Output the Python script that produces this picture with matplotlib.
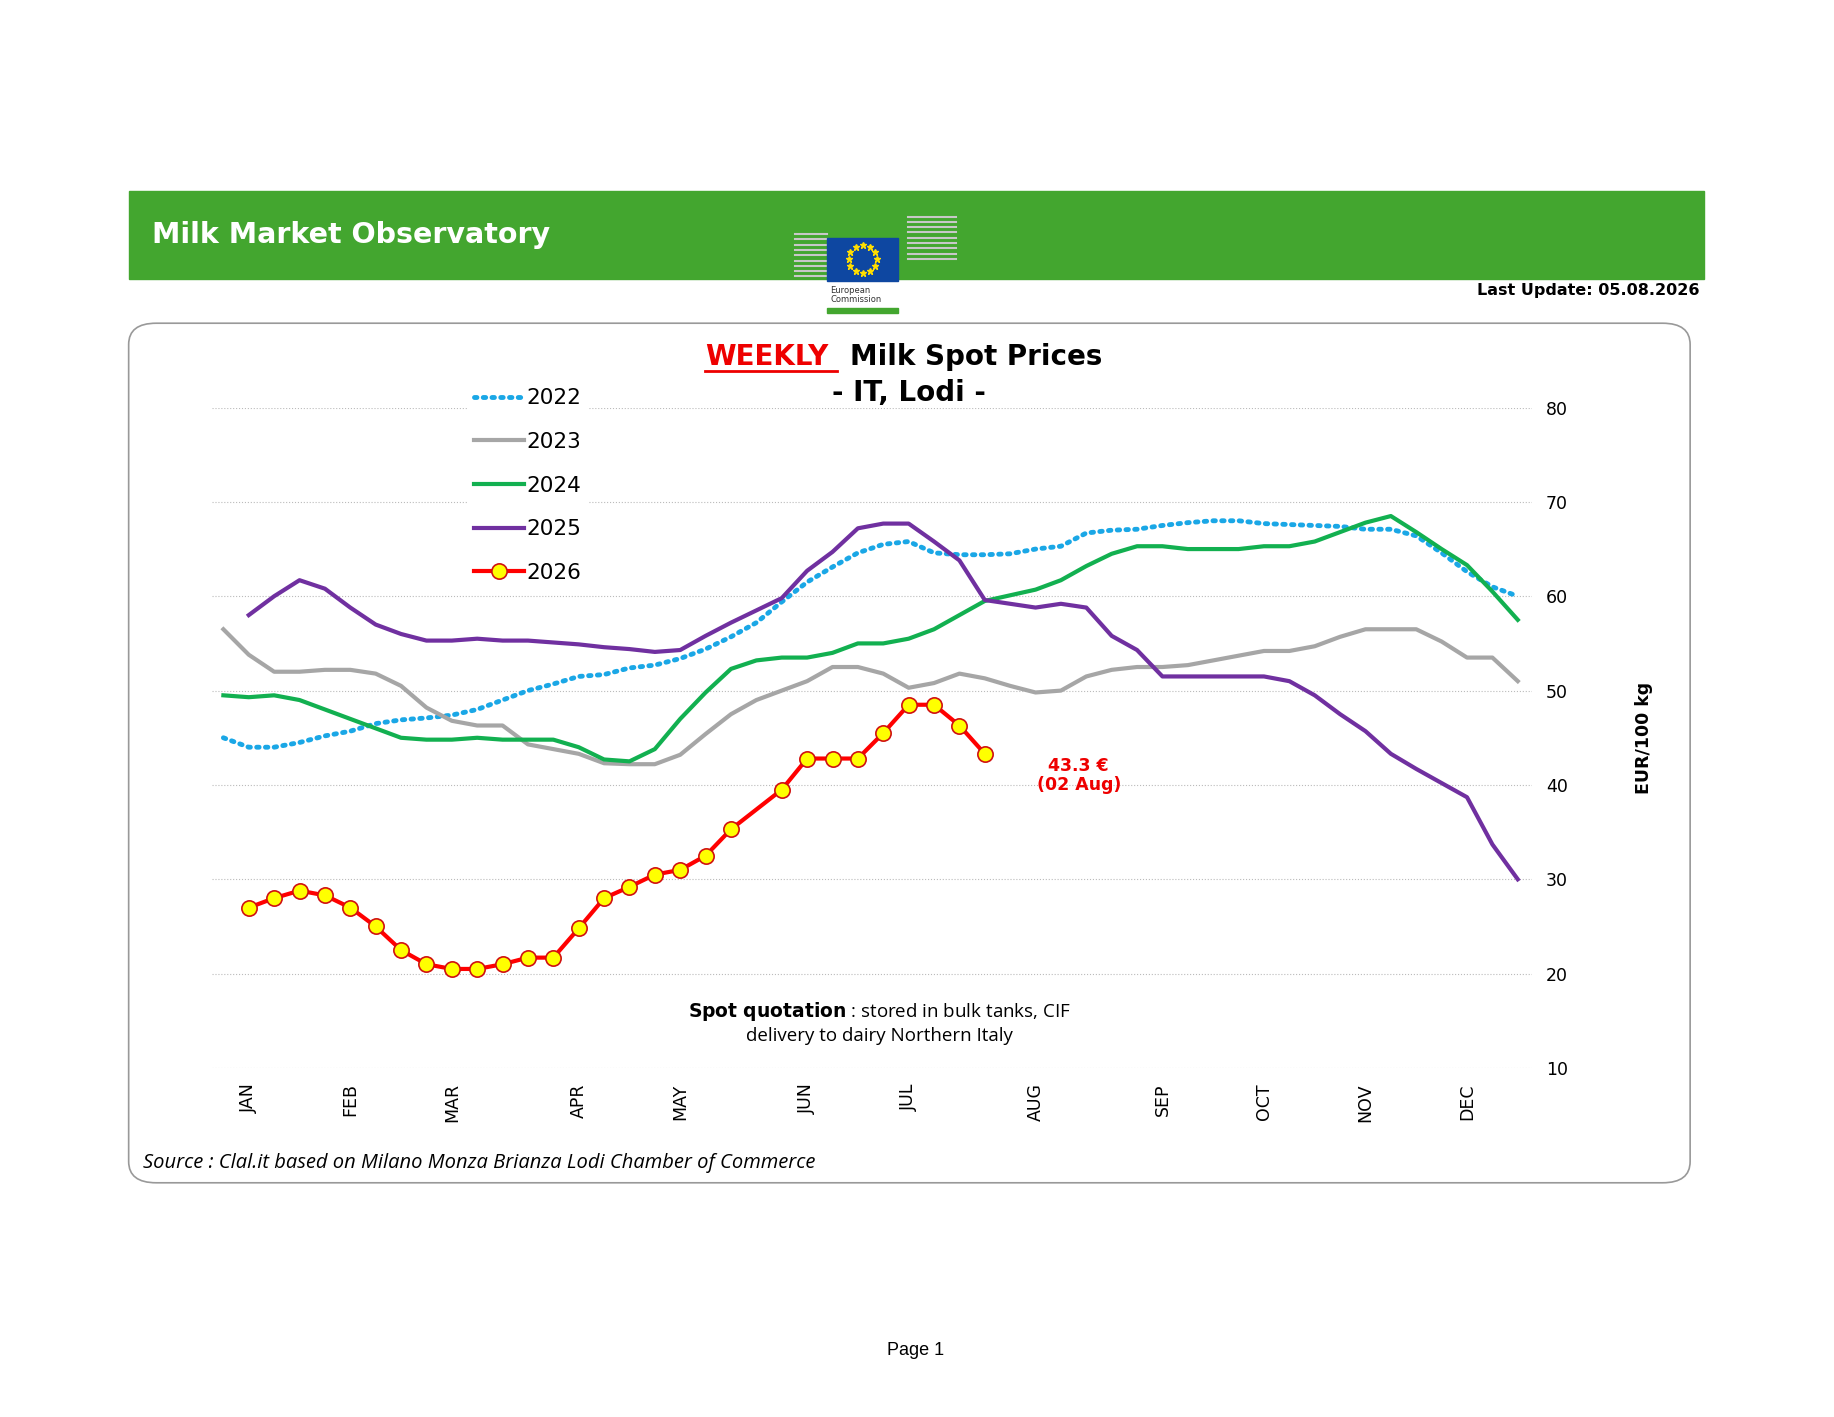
import numpy as np
import matplotlib.pyplot as plt
from matplotlib.patches import FancyBboxPatch, Rectangle

# Datos semanales (EUR/100 kg)
semanas = np.arange(52)
y2022 = [45, 44, 44, 44.5, 45.2, 45.7, 46.5, 46.9, 47.1, 47.4, 48, 49, 50, 50.7, 51.5, 51.7, 52.4, 52.7, 53.4, 54.4,
         55.7, 57.2, 59.4, 61.5, 63.1, 64.6, 65.5, 65.8, 64.6, 64.4, 64.4, 64.5, 65, 65.3, 66.7, 67, 67.1, 67.5, 67.8, 68,
         68, 67.7, 67.6, 67.5, 67.4, 67.1, 67.1, 66.4, 64.6, 62.6, 61, 60]
y2023 = [56.5, 53.8, 52, 52, 52.2, 52.2, 51.8, 50.5, 48.2, 46.8, 46.3, 46.3, 44.3, 43.8, 43.3, 42.3, 42.2, 42.2, 43.2, 45.4,
         47.5, 49, 50, 51, 52.5, 52.5, 51.8, 50.3, 50.8, 51.8, 51.3, 50.5, 49.8, 50, 51.5, 52.2, 52.5, 52.5, 52.7, 53.2,
         53.7, 54.2, 54.2, 54.7, 55.7, 56.5, 56.5, 56.5, 55.2, 53.5, 53.5, 51]
y2024 = [49.5, 49.3, 49.5, 49, 48, 47, 46, 45, 44.8, 44.8, 45, 44.8, 44.8, 44.8, 44, 42.7, 42.5, 43.8, 47, 49.8,
         52.3, 53.2, 53.5, 53.5, 54, 55, 55, 55.5, 56.5, 58, 59.5, 60.1, 60.7, 61.7, 63.2, 64.5, 65.3, 65.3, 65, 65,
         65, 65.3, 65.3, 65.8, 66.8, 67.8, 68.5, 66.8, 65, 63.3, 60.5, 57.5]
sem2025 = np.arange(1, 52)
y2025 = [58, 60, 61.7, 60.8, 58.8, 57, 56, 55.3, 55.3, 55.5, 55.3, 55.3, 55.1, 54.9, 54.6, 54.4, 54.1, 54.3, 55.8,
         57.2, 58.5, 59.8, 62.7, 64.7, 67.2, 67.7, 67.7, 65.8, 63.8, 59.6, 59.2, 58.8, 59.2, 58.8, 55.8, 54.3,
         51.5, 51.5, 51.5, 51.5, 51.5, 51, 49.5, 47.5, 45.7, 43.3, 41.7, 40.2, 38.7, 33.7, 30]
sem2026 = list(range(1, 21)) + list(range(22, 31))
y2026 = [27, 28, 28.8, 28.3, 27, 25, 22.5, 21, 20.5, 20.5, 21, 21.7, 21.7, 24.8, 28, 29.2, 30.5, 31, 32.5, 35.3,
         39.5, 42.8, 42.8, 42.8, 45.5, 48.5, 48.5, 46.3, 43.3]
meses = ['JAN', 'FEB', 'MAR', 'APR', 'MAY', 'JUN', 'JUL', 'AUG', 'SEP', 'OCT', 'NOV', 'DEC']
pos_meses = [1, 5, 9, 14, 18, 23, 27, 32, 37, 41, 45, 49]

W, H = 1568, 1210
def fx(x): return x / W
def fy(y): return 1 - y / H

fig = plt.figure(figsize=(18.34, 14.17), dpi=100)
fig.patch.set_facecolor('white')

# Banner
fig.patches.append(Rectangle((fx(110), fy(238)), fx(1457) - fx(110), fy(163) - fy(238),
                             transform=fig.transFigure, color='#43a62f', zorder=0))
fig.text(fx(130), fy(201), 'Milk Market Observatory', color='white', fontsize=20.5, fontweight='bold',
         va='center', family='DejaVu Sans')
# Logo simplificado
for k in range(9):
    fig.lines.append(plt.Line2D([fx(680), fx(707)], [fy(200 + k * 4.5), fy(200 + k * 4.5)],
                                transform=fig.transFigure, color='#c8c8c8', lw=1.5))
    fig.lines.append(plt.Line2D([fx(776), fx(817)], [fy(200 + k * 4.5 - 15), fy(200 + k * 4.5 - 15)],
                                transform=fig.transFigure, color='#c8c8c8', lw=1.5))
fig.patches.append(Rectangle((fx(707), fy(240)), fx(61), fy(203) - fy(240), transform=fig.transFigure,
                             color='#0e47a1', zorder=2))
ang = np.linspace(0, 2 * np.pi, 13)[:-1]
fig.lines.append(plt.Line2D(fx(737.5 + 12 * np.cos(ang)), fy(221 + 12 * np.sin(ang)), transform=fig.transFigure,
                            ls='none', marker='*', ms=5, color='#ffdd00', zorder=3))
fig.patches.append(Rectangle((fx(707), fy(267)), fx(61), fy(263) - fy(267), transform=fig.transFigure,
                             color='#43a62f', zorder=2))
fig.text(fx(710), fy(252), 'European\nCommission', fontsize=6, va='center', color='#333333', linespacing=1.1)
fig.text(fx(1453), fy(248), 'Last Update: 05.08.2026', ha='right', va='center', fontsize=11.5, fontweight='bold')

# Caja redondeada
fig.patches.append(FancyBboxPatch((fx(110), fy(1010)), fx(1445) - fx(110), fy(276) - fy(1010),
                                  boxstyle='round,pad=0,rounding_size=0.015', transform=fig.transFigure,
                                  fc='white', ec='#999999', lw=1.2, zorder=0))

ax = fig.add_axes([fx(181), fy(912), fx(1310) - fx(181), fy(348) - fy(912)], zorder=3)
ax.patch.set_alpha(0)
ax.set_xlim(-0.46, 51.57)
ax.set_ylim(10, 80)
ax.set_yticks(range(10, 81, 10))
ax.yaxis.tick_right()
ax.tick_params(axis='y', length=0, pad=10, labelsize=12.5)
ax.set_xticks(pos_meses)
ax.set_xticklabels(meses, rotation=90, fontsize=12.5)
ax.tick_params(axis='x', length=0, pad=11)
for s in ax.spines.values():
    s.set_visible(False)
ax.grid(axis='y', color='#bbbbbb', ls=':', lw=0.8)
ax.set_axisbelow(True)

ax.plot(semanas, y2022, color='#1aa7e6', lw=3.5, ls=(0, (0.5, 1.3)), dash_capstyle='round', label='2022')
ax.plot(semanas, y2023, color='#a6a6a6', lw=3, label='2023')
ax.plot(semanas, y2024, color='#12b050', lw=3, label='2024')
ax.plot(sem2025, y2025, color='#7030a0', lw=3, label='2025')
ax.plot(sem2026, y2026, color='#ff0000', lw=3, marker='o', ms=11, mfc='#ffff00', mec='#d01010', mew=1.2,
        label='2026', zorder=5)

leg = ax.legend(loc='upper left', bbox_to_anchor=((400 - 181) / 1129, (912 - 326) / 564), frameon=True,
                fontsize=15.5, handlelength=2.3, handletextpad=0.1, labelspacing=1.1, borderpad=0.3,
                borderaxespad=0)
leg.get_frame().set_edgecolor('white')
leg.get_frame().set_facecolor('white')
leg.get_frame().set_alpha(1)

ax.text(33.7, 41, '43.3 €\n(02 Aug)', color='#ee0000', fontsize=12.5, fontweight='bold',
        ha='center', va='center', linespacing=1.1)
ax.text(1.085, 0.5, 'EUR/100 kg', transform=ax.transAxes, rotation=90, fontsize=12.5,
        fontweight='bold', ha='center', va='center')

fig.text(fx(603), fy(305), 'WEEKLY', color='#ee0000', fontsize=20, fontweight='bold', va='center')
fig.lines.append(plt.Line2D([fx(603), fx(716)], [fy(317), fy(317)], transform=fig.transFigure, color='#ee0000', lw=2))
fig.text(fx(727), fy(305), 'Milk Spot Prices', fontsize=20, fontweight='bold', va='center')
fig.text(fx(777), fy(336), '- IT, Lodi -', fontsize=20, fontweight='bold', va='center', ha='center')

fig.text(fx(752), fy(873), r'$\bf{Spot\ quotation}$ : stored in bulk tanks, CIF' + '\ndelivery to dairy Northern Italy',
         fontsize=13.5, ha='center', va='center', family='Open Sans', linespacing=1.3)
fig.text(fx(122), fy(993), 'Source : Clal.it based on Milano Monza Brianza Lodi Chamber of Commerce',
         fontsize=14.5, style='italic', va='center', family='Open Sans')
fig.text(fx(783), fy(1153), 'Page 1', fontsize=13, ha='center', va='center', family='Liberation Sans')

fig.savefig('out.png', dpi=100)
